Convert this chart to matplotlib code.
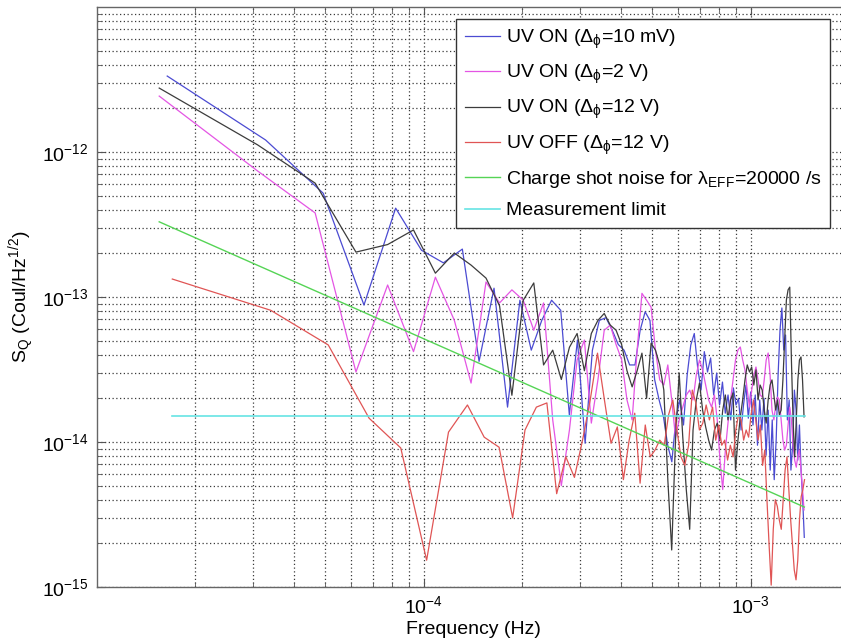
import numpy as np
import matplotlib.pyplot as plt
from matplotlib.ticker import LogLocator, NullFormatter

plt.rcParams['font.family'] = ['Liberation Sans', 'DejaVu Sans']
plt.rcParams['mathtext.fontset'] = 'custom'
plt.rcParams['mathtext.rm'] = 'Liberation Sans'
plt.rcParams['mathtext.it'] = 'Liberation Sans'
plt.rcParams['mathtext.bf'] = 'Liberation Sans:bold'
plt.rcParams['mathtext.default'] = 'regular'

# spectra are read in units of 1e-14 Coul/Hz^1/2
unit = 1e-14

# frequency resolution of each record (Hz), points sit at k*df
df_blue = 1.64e-5
df_magenta = 1.55e-5
df_black = 1.55e-5
df_red = 1.70e-5

# UV ON, 10 mV
blue = [334, 121, 52, 8.8, 41, 21, 17.2, 21.4, 3.6, 11.5,
        1.74, 9.5, 4.3, 6.9, 9.5, 8.1, 1.54, 5.05, 0.98, 4.3,
        6.9, 7.2, 5.9, 4.7, 4.3, 3.4, 3.4, 5.9, 7.9, 6.9,
        2.7, 1.95, 1.49, 0.95, 0.73, 1.42, 1.95, 1.31, 2.9, 4.67,
        5.6, 3.24, 2.28, 4.2, 3.04, 3.8, 2.11, 2.99, 1.8, 2.59,
        1.58, 2.11, 1.42, 2.36, 1.8, 2.0, 1.21, 1.8, 2.47, 1.46,
        2.21, 1.31, 2.11, 0.95, 1.95, 1.21, 2.0, 0.81, 1.66, 0.64,
        1.42, 0.55, 1.03, 2.9, 5.92, 8.4, 4.31, 5.47, 1.42, 1.95,
        0.64, 0.95, 2.28, 1.66, 0.75, 1.31, 0.64, 0.40, 0.22]

# UV ON, 2 V
magenta = [243, 74, 38, 3.04, 12.1, 4.2, 13.7, 6.9, 2.55, 12.7,
           9.1, 11.2, 9.5, 5.9, 9.1, 1.42, 0.5, 1.21, 3.68, 5.05,
           1.35, 2.68, 5.9, 6.4, 4.7, 3.7, 1.95, 1.42, 4.3, 10.6,
           9.5, 8.5, 4.3, 2.68, 2.47, 3.40, 1.95, 1.08, 1.42, 1.74,
           2.11, 2.28, 1.95, 2.90, 3.68, 3.14, 2.47, 1.95, 1.74, 2.11,
           1.42, 0.75, 0.47, 0.88, 1.35, 1.95, 2.68, 3.68, 4.31, 4.52,
           3.68, 3.14, 2.28, 1.74, 2.28, 2.90, 3.29, 2.68, 2.11, 2.04,
           2.68, 3.68, 4.11, 2.90, 1.66, 1.42, 1.80, 2.04, 1.95, 1.42,
           1.03, 0.88, 0.95, 1.31, 1.74, 1.42, 0.95, 0.75, 0.67, 0.81,
           0.88, 0.64, 0.47, 0.34]

# UV ON, 12 V
black = [276, 112, 61, 20.4, 23, 29, 14.6, 20.1, 16.6, 13.5,
         8.7, 2.1, 9.5, 12.5, 3.4, 4.3, 2.7, 4.5, 5.6, 3.1,
         5.6, 6.9, 7.7, 6.4, 5.9, 4.7, 3.1, 2.4, 3.1, 4.1,
         2.0, 4.8, 4.3, 3.40, 2.28, 0.55, 0.18, 1.03, 2.99, 1.08,
         0.47, 0.25, 1.21, 1.95, 2.55, 1.66, 1.27, 1.03, 0.88, 1.21,
         1.35, 1.03, 1.66, 2.11, 1.42, 1.95, 2.18, 0.64, 1.03, 1.49,
         1.95, 2.68, 3.40, 3.04, 3.29, 2.47, 3.14, 1.95, 2.47, 2.28,
         1.66, 1.35, 1.95, 2.47, 2.68, 2.11, 1.66, 1.95, 1.54, 1.66,
         2.68, 5.05, 9.53, 11.2, 11.7, 3.68, 1.42, 0.79, 1.42, 2.68,
         3.68, 3.86, 2.68, 1.49]

# UV OFF, 12 V
red = [13.3, 8.1, 4.67, 1.46, 0.91, 0.153, 1.17, 1.80, 1.08, 0.92,
       0.30, 1.21, 1.74, 1.86, 0.44, 0.79, 0.57, 1.03, 1.95, 4.1,
       1.95, 0.98, 1.27, 0.55, 1.03, 1.58, 0.52, 1.31, 0.79, 0.88,
       1.03, 0.95, 1.54, 1.95, 1.21, 0.79, 0.69, 0.95, 2.28, 1.86,
       1.21, 1.35, 1.80, 1.42, 1.74, 1.03, 1.31, 0.95, 1.03, 0.75,
       0.95, 0.79, 1.21, 1.54, 1.42, 1.03, 1.21, 1.08, 1.54, 1.95,
       1.42, 1.03, 1.31, 0.69, 0.88, 0.40, 0.195, 0.103, 0.25, 0.40,
       0.36, 0.29, 0.25, 0.40, 0.64, 0.79, 0.47, 0.29, 0.195, 0.131,
       0.112, 0.153, 0.29, 0.42, 0.47, 0.55]

# charge shot noise line and measurement limit (end points)
shot_freq = [1.55e-5, 1.46e-3]
shot = [33.0, 0.356]
limit_freq = [1.70e-5, 1.47e-3]
limit = [1.5, 1.5]

labels = ['UV ON ($\\Delta_\\phi$=10 mV)',
          'UV ON ($\\Delta_\\phi$=2 V)',
          'UV ON ($\\Delta_\\phi$=12 V)',
          'UV OFF ($\\Delta_\\phi$=12 V)',
          'Charge shot noise for $\\lambda_{EFF}$=20000 /s',
          'Measurement limit']
colors = ['#4b4bd2', '#e455e4', '#3c3c3c', '#e05555', '#55d455', '#66e4e4']

fig = plt.figure(figsize=(8.41, 6.42), dpi=100)
ax = fig.add_axes([97/841, 55/642, 752/841, 580/642])

series = [(df_blue, blue), (df_magenta, magenta), (df_black, black), (df_red, red)]
for (df, vals), c, lab in zip(series, colors[:4], labels[:4]):
    f = df * np.arange(1, len(vals) + 1)
    ax.loglog(f, np.array(vals) * unit, color=c, lw=0.9, label=lab)
ax.loglog(shot_freq, np.array(shot) * unit, color=colors[4], lw=1.0, label=labels[4])
ax.loglog(limit_freq, np.array(limit) * unit, color=colors[5], lw=1.2, label=labels[5])

ax.set_xlim(1e-5, 2e-3)
ax.set_ylim(1e-15, 1e-11)
ax.set_xticks([1e-4, 1e-3])
ax.set_yticks([1e-15, 1e-14, 1e-13, 1e-12])
ax.xaxis.set_minor_locator(LogLocator(base=10, subs=np.arange(2, 10), numticks=30))
ax.yaxis.set_minor_locator(LogLocator(base=10, subs=np.arange(2, 10), numticks=30))
ax.xaxis.set_minor_formatter(NullFormatter())
ax.yaxis.set_minor_formatter(NullFormatter())

ax.grid(True, which='both', linestyle=(0, (1, 2)), color='#3a3a3a', linewidth=0.9)
ax.tick_params(which='both', direction='in', top=True, right=True,
               color='#555555', labelsize=14, pad=6)
ax.tick_params(which='major', length=6)
ax.tick_params(which='minor', length=3.5)
for s in ax.spines.values():
    s.set_color('#666666')
    s.set_linewidth(1.0)

ax.set_xlabel('Frequency (Hz)', fontsize=14, labelpad=3)
ax.set_ylabel('S$_Q$ (Coul/Hz$^{1/2}$)', fontsize=14, labelpad=4)

leg = ax.legend(loc='upper right', bbox_to_anchor=(830/841, 1 - 19/642),
                bbox_transform=fig.transFigure, fontsize=14, fancybox=False,
                edgecolor='#333333', framealpha=1, borderaxespad=0,
                handlelength=1.8, handletextpad=0.3, labelspacing=0.62,
                borderpad=0.45)
leg.get_frame().set_linewidth(1.0)

fig.savefig('out.png', dpi=100)
